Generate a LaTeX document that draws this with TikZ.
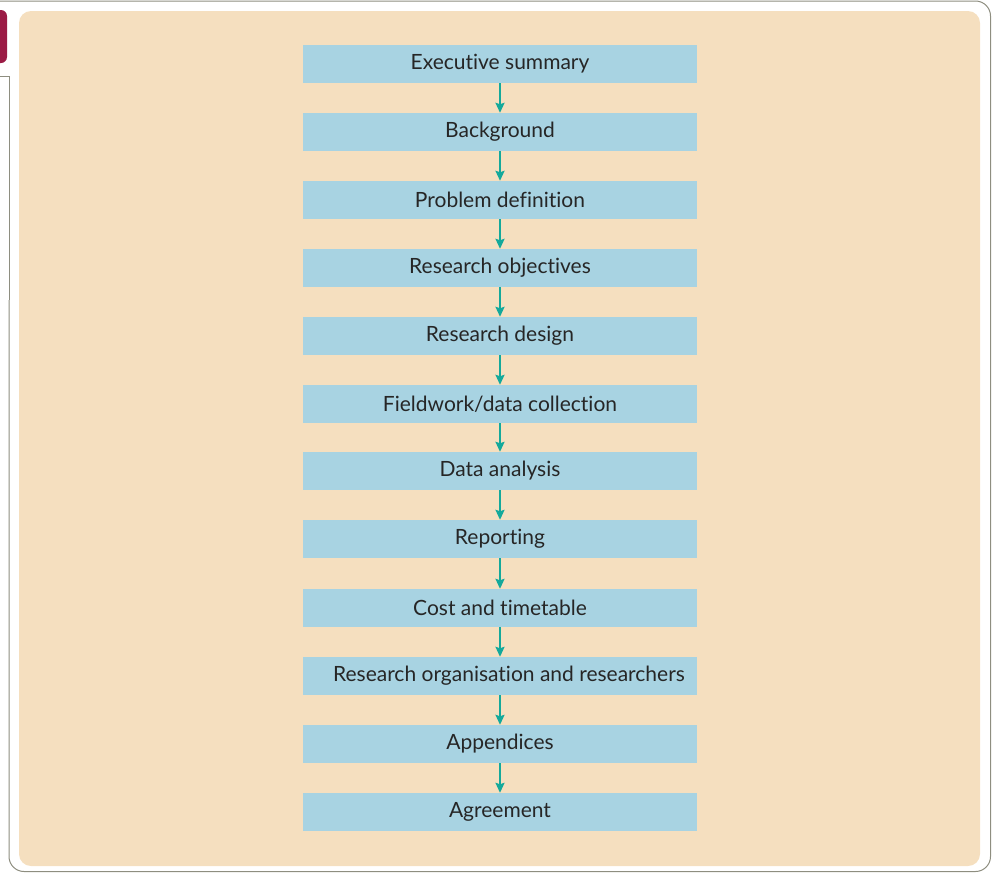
\documentclass[tikz,border=0pt]{standalone}
\usepackage{fontspec}
\setmainfont[Ligatures=NoCommon]{Lato}
\usetikzlibrary{arrows.meta}
\definecolor{panel}{HTML}{F5DFBF}
\definecolor{boxc}{HTML}{A8D3E2}
\definecolor{arrc}{HTML}{14A99B}
\definecolor{tab}{HTML}{9B1B45}
\definecolor{frame}{HTML}{8E8E80}
\tikzset{
  stepbox/.style={fill=boxc, minimum width=394pt, minimum height=38pt, inner sep=0pt, font=\fontsize{21}{24}\selectfont, text=black!85},
  flow/.style={draw=arrc, line width=2pt, -{Stealth[length=10pt,width=9pt,inset=1.5pt]}},
}
\begin{document}
\begin{tikzpicture}[x=1pt,y=-1pt]
\useasboundingbox (0,0) rectangle (992,873);
\begin{scope}
\clip (0,0) rectangle (992,873);
\fill[tab, rounded corners=6pt] (-12,10) rectangle (7,63);
\draw[frame, line width=1pt, rounded corners=15pt] (0,1) -- (990.5,1) -- (990.5,871.5) -- (9,871.5) -- (9,300);
\draw[frame, line width=1pt] (9,300) -- (9,76) -- (0,76);
\end{scope}
\fill[panel, rounded corners=12pt] (19,11) rectangle (980,866);
\node[stepbox] (n1) at (500,64) {Executive summary};
\node[stepbox] (n2) at (500,132) {Background};
\node[stepbox] (n3) at (500,200) {Problem definition};
\node[stepbox] (n4) at (500,268) {Research objectives};
\node[stepbox] (n5) at (500,336) {Research design};
\node[stepbox] (n6) at (500,404) {Fieldwork/data collection};
\node[stepbox] (n7) at (500,471) {Data analysis};
\node[stepbox] (n8) at (500,539) {Reporting};
\node[stepbox] (n9) at (500,608) {Cost and timetable};
\node[stepbox] (n10) at (500,676) {\hspace*{18pt}Research organisation and researchers};
\node[stepbox] (n11) at (500,744) {Appendices};
\node[stepbox] (n12) at (500,812) {Agreement};
\foreach \a/\b in {n1/n2,n2/n3,n3/n4,n4/n5,n5/n6,n6/n7,n7/n8,n8/n9,n9/n10,n10/n11,n11/n12}
  \draw[flow] (\a.south) -- (\b.north);
\end{tikzpicture}
\end{document}
